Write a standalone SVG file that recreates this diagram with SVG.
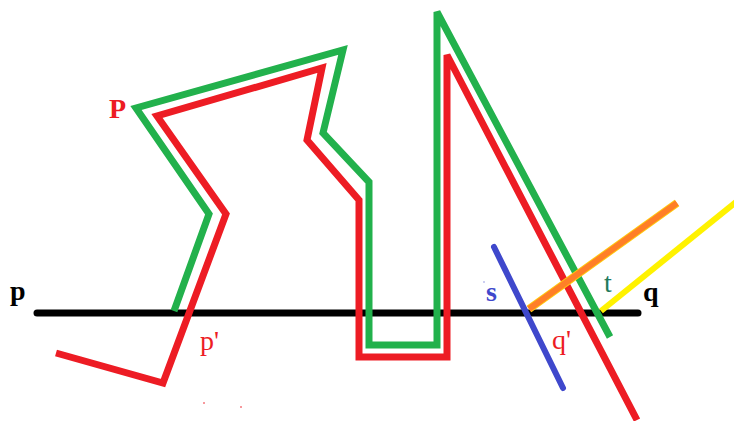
<svg xmlns="http://www.w3.org/2000/svg" width="734" height="421" viewBox="0 0 734 421">
<style>
.ln{fill:none;stroke-width:7;stroke-linejoin:miter}
.lbl{font-family:"Liberation Serif","Times New Roman",serif;font-size:28px}
.b{font-weight:bold}
</style>
<rect width="734" height="421" fill="#ffffff"/>
<g id="connectors">
<line x1="37" y1="313" x2="638" y2="313" stroke="#000000" stroke-width="7" stroke-linecap="round"/>
<polyline class="ln" stroke="#22B14C" points="174,311 209,214 136,108 343,50 323,133 369,182 369,345 437,345 437,12 610,337"/>
<polyline class="ln" stroke="#ED1C24" points="56,353 163,383 226,214 157,116 322,68 307,140 359,200 359,357 447,357 447,55 637,420"/>
<line x1="494" y1="247" x2="563" y2="388" stroke="#3F48CC" stroke-width="6" stroke-linecap="round"/>
<line x1="529" y1="309" x2="677" y2="203" stroke="#FFC90E" stroke-width="8"/>
<line x1="529" y1="309" x2="677" y2="203" stroke="#FF7F27" stroke-width="6"/>
<line x1="601" y1="311" x2="736" y2="202" stroke="#FFF200" stroke-width="6"/>
</g>
<g id="labels">
<text class="lbl b" x="109" y="118" fill="#ED1C24" font-size="26">P</text>
<text class="lbl b" x="10" y="300" fill="#000000">p</text>
<text class="lbl" x="200" y="350" fill="#ED1C24">p'</text>
<text class="lbl b" x="486" y="301" fill="#3F48CC">s</text>
<text class="lbl" x="552" y="349" fill="#ED1C24">q'</text>
<text class="lbl" x="604" y="292" fill="#217A5C">t</text>
<text class="lbl b" x="643" y="301" fill="#000000">q</text>
</g>
<g id="dots">
<circle cx="204" cy="403" r="1" fill="#ED1C24" opacity="0.6"/>
<circle cx="241" cy="407" r="1" fill="#ED1C24" opacity="0.6"/>
<circle cx="484" cy="282" r="0.8" fill="#3F48CC" opacity="0.6"/>
</g>
</svg>
